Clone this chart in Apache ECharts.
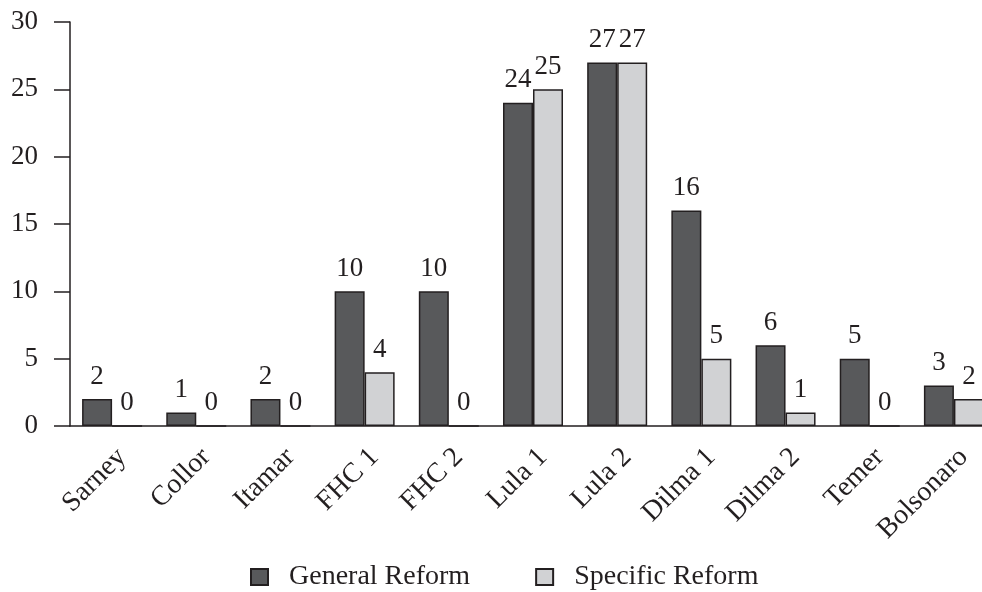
<!DOCTYPE html>
<html>
<head>
<meta charset="utf-8">
<script src="https://cdn.jsdelivr.net/npm/echarts@6/dist/echarts.min.js"></script>
<style>html,body{margin:0;padding:0;background:#fff}#c{width:982px;height:592px}</style>
</head>
<body>
<div id="c"></div>
<script>
const categories = ['Sarney','Collor','Itamar','FHC 1','FHC 2','Lula 1','Lula 2','Dilma 1','Dilma 2','Temer','Bolsonaro'];
const generalReform = [2,1,2,10,10,24,27,16,6,5,3];
const specificReform = [0,0,0,4,0,25,27,5,1,0,2];
const yTicks = {min:0,max:30,interval:5};

const FONT = '"Liberation Serif", "DejaVu Serif", serif';
const INK = '#231f20';
const chart = echarts.init(document.getElementById('c'));
const labelStyle = {show:true, position:'top', distance:9, color:INK, fontFamily:FONT, fontSize:27};
chart.setOption({
  animation:false,
  textStyle:{fontFamily:FONT},
  grid:{left:70, width:926, top:22, bottom:166, containLabel:false, outerBoundsMode:'none'},
  legend:{
    bottom:1, left:250, padding:0, icon:'rect', itemWidth:17, itemHeight:16, itemGap:65,
    textStyle:{fontFamily:FONT, fontSize:28, color:INK, padding:[0,0,0,16]},
    data:['General Reform','Specific Reform']
  },
  xAxis:{
    type:'category', data:categories,
    axisLine:{lineStyle:{color:INK, width:1.5}},
    axisTick:{show:false},
    axisLabel:{rotate:45, color:INK, fontFamily:FONT, fontSize:28, margin:17, interval:0, verticalAlign:'top'}
  },
  yAxis:{
    type:'value', min:yTicks.min, max:yTicks.max, interval:yTicks.interval,
    splitLine:{show:false},
    axisLine:{show:true, lineStyle:{color:INK, width:1.5}},
    axisTick:{show:true, inside:false, length:16, lineStyle:{color:INK, width:1.5}},
    axisLabel:{color:INK, fontFamily:FONT, fontSize:27, margin:32}
  },
  series:[
    {name:'General Reform', type:'bar', data:generalReform, barWidth:30, barGap:'0%',
     itemStyle:{color:'#58595b', borderColor:INK, borderWidth:1.5}, label:labelStyle},
    {name:'Specific Reform', type:'bar', data:specificReform, barWidth:30, barGap:'0%',
     itemStyle:{color:'#d1d2d4', borderColor:INK, borderWidth:1.5}, label:labelStyle}
  ]
});
</script>
</body>
</html>
